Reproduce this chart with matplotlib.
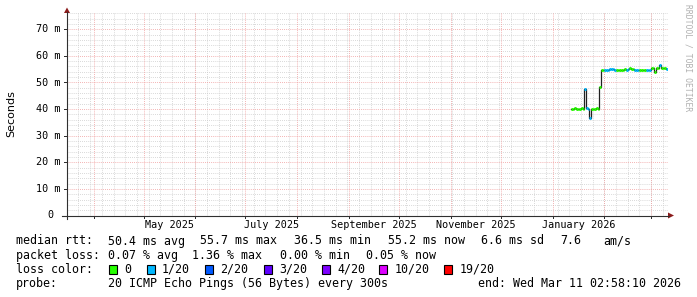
import datetime as dt
import matplotlib
matplotlib.use('Agg')
import matplotlib.pyplot as plt
import matplotlib.dates as mdates
from matplotlib.lines import Line2D
from matplotlib.patches import Polygon, Rectangle

W, H = 697, 297
MONO = 'DejaVu Sans Mono'
AXIS = '#303030'
ARROW = '#8c1c1c'
GRID_MINOR = '#cccccc'
GRID_MAJOR = '#f09a9a'

# time window of the graph
t_end = dt.datetime(2026, 3, 11, 2, 58, 10)
t_start = t_end - dt.timedelta(days=360)

# daily median rtt (ms), starting 2026-01-12
first_day = dt.datetime(2026, 1, 12)
median_ms = [40.2, 40.1, 40.3, 40.2, 40.0, 40.2, 40.3, 40.2,
             47.4, 40.3, 40.1, 36.5,
             40.2, 40.1, 40.2, 40.3, 40.2, 48.4,
             54.5, 54.5,
             54.7, 54.7, 54.8, 55.0, 55.0, 54.9, 54.7,
             54.6, 54.6, 54.7, 54.8, 54.8, 54.9,
             54.8, 54.9,
             55.6, 55.2, 54.9,
             54.6, 54.5, 54.6,
             54.5, 54.7, 54.6, 54.8,
             54.6, 54.6, 54.7,
             55.3, 55.4, 54.0, 55.5, 55.6,
             56.6,
             55.5, 55.6, 55.4,
             55.2]
# loss class per day (index into loss_labels)
loss_idx = [0, 0, 0, 0, 0, 0, 0, 0,
            1, 1, 1, 1,
            0, 0, 0, 0, 0, 0,
            0, 0,
            1, 1, 1, 1, 1, 1, 1,
            0, 0, 0, 0, 0, 0,
            1, 1,
            0, 0, 0,
            1, 1, 1,
            0, 0, 0, 0,
            1, 1, 1,
            0, 0, 0, 0, 0,
            1,
            0, 0, 0,
            1]

loss_labels = ['0', '1/20', '2/20', '3/20', '4/20', '10/20', '19/20']
loss_colors = ['#26ff00', '#00b8ff', '#0059ff', '#5e00ff', '#7e00ff', '#dd00ff', '#ff0000']

y_major_ms = [10, 20, 30, 40, 50, 60, 70]
y_tick_labels = ['10 m', '20 m', '30 m', '40 m', '50 m', '60 m', '70 m']
x_label_months = [(2025, 5), (2025, 7), (2025, 9), (2025, 11), (2026, 1)]
x_labels = ['May 2025', 'July 2025', 'September 2025', 'November 2025', 'January 2026']

rtt_row = [('median rtt:', 16), ('50.4 ms avg', 108.5), ('55.7 ms max', 199.5),
           ('36.5 ms min', 294.5), ('55.2 ms now', 388), ('6.6 ms sd', 481),
           ('7.6', 560), ('am/s', 603)]
loss_row = [('packet loss:', 16), ('0.07 % avg', 108), ('1.36 % max', 192),
            ('0.00 % min', 280), ('0.05 % now', 366)]
box_x = [108.5, 146.5, 205, 263.5, 321.5, 379, 444]
probe_text = '20 ICMP Echo Pings (56 Bytes) every 300s'
end_text = 'end: Wed Mar 11 02:58:10 2026'


def fx(px):
    return px / W


def fy(py):
    return 1 - py / H


fig = plt.figure(figsize=(W / 100, H / 100), dpi=100)
fig.patch.set_facecolor('white')
ax = fig.add_axes([fx(67), fy(215.5), 601 / W, 202.5 / H])
ax.set_facecolor('white')
for s in ax.spines.values():
    s.set_visible(False)
ax.set_xlim(t_start, t_end)
ax.set_ylim(0, 0.0761)
ax.set_xticks([])
ax.set_yticks([])

# grid
dotted = dict(linestyle=(0, (1, 1.5)), linewidth=0.6)
for ms in range(2, 77, 2):
    if ms % 10:
        ax.axhline(ms / 1000, color=GRID_MINOR, zorder=1, **dotted)
d = t_start.replace(hour=0, minute=0, second=0)
while d < t_end:
    if d.weekday() == 6:
        ax.axvline(d, color=GRID_MINOR, zorder=1, **dotted)
    d += dt.timedelta(days=1)
month_starts = []
y, m = 2025, 4
while dt.datetime(y, m, 1) < t_end:
    month_starts.append(dt.datetime(y, m, 1))
    m += 1
    if m > 12:
        y, m = y + 1, 1
for ms in y_major_ms:
    ax.axhline(ms / 1000, color=GRID_MAJOR, zorder=2, **dotted)
for ms_d in month_starts:
    ax.axvline(ms_d, color=GRID_MAJOR, zorder=2, **dotted)

# median line
days = [first_day + dt.timedelta(days=i) for i in range(len(median_ms))]
xs = days + [t_end]
ys = [v / 1000 for v in median_ms] + [median_ms[-1] / 1000]
ax.plot(xs, ys, drawstyle='steps-post', color='#202020', lw=0.9, zorder=3)
xn = mdates.date2num(xs)
ax.hlines([v / 1000 for v in median_ms], xn[:-1], xn[1:],
          colors=[loss_colors[i] for i in loss_idx], lw=2.1, zorder=4)

# axes lines, ticks and arrows
fig.add_artist(Line2D([fx(62), fx(669)], [fy(215.5), fy(215.5)], color=AXIS, lw=0.8))
fig.add_artist(Line2D([fx(67), fx(67)], [fy(219), fy(12)], color=AXIS, lw=0.8))
fig.add_artist(Polygon([(fx(668), fy(212.5)), (fx(668), fy(218.5)), (fx(674), fy(215.5))],
                       closed=True, color=ARROW, lw=0))
fig.add_artist(Polygon([(fx(64), fy(13)), (fx(70), fy(13)), (fx(67), fy(7.5))],
                       closed=True, color=ARROW, lw=0))
trans_x = ax.get_xaxis_transform()
for ms_d in month_starts:
    ax.plot([ms_d, ms_d], [0, -0.012], transform=trans_x, color=AXIS, lw=0.72,
            clip_on=False, zorder=5)
trans_y = ax.get_yaxis_transform()
for ms in y_major_ms:
    ax.plot([-0.005, 0], [ms / 1000, ms / 1000], transform=trans_y, color=AXIS,
            lw=0.72, clip_on=False, zorder=5)

# y tick labels
for ms, lab in zip(y_major_ms, y_tick_labels):
    py = 215.5 - ms * 2.66
    fig.text(fx(60.5), fy(py), lab, ha='right', va='center', family=MONO, fontsize=7.3)
fig.text(fx(53.5), fy(215.5), '0', ha='right', va='center', family=MONO, fontsize=7.3)

# x labels at mid-month
for (yy, mm), lab in zip(x_label_months, x_labels):
    nm = dt.datetime(yy + (mm == 12), mm % 12 + 1, 1)
    st = dt.datetime(yy, mm, 1)
    mid = st + (nm - st) / 2
    ax.text(mid, -0.045, lab, transform=trans_x, ha='center', va='center',
            family=MONO, fontsize=7.3)

fig.text(fx(11), fy(113.5), 'Seconds', rotation=90, ha='center', va='center',
         family='DejaVu Sans', fontsize=8)
fig.text(fx(688), fy(4), 'RRDTOOL / TOBI OETIKER', rotation=-90, ha='center', va='top',
         family=MONO, fontsize=5.8, color='#b0b0b0')

# legend rows
FS = 8.4
for txt, px in rtt_row:
    fig.text(fx(px), fy(241), txt, ha='left', va='center', family=MONO, fontsize=FS)
for txt, px in loss_row:
    fig.text(fx(px), fy(255.5), txt, ha='left', va='center', family=MONO, fontsize=FS)
fig.text(fx(16), fy(269.5), 'loss color:', ha='left', va='center', family=MONO, fontsize=FS)
for bx, col, lab in zip(box_x, loss_colors, loss_labels):
    fig.add_artist(Rectangle((fx(bx), fy(274)), 8 / W, 9 / H, facecolor=col,
                             edgecolor='black', lw=0.8))
    fig.text(fx(bx + 15.5), fy(269.5), lab, ha='left', va='center', family=MONO, fontsize=FS)
fig.text(fx(16), fy(283.5), 'probe:', ha='left', va='center', family=MONO, fontsize=FS)
fig.text(fx(108), fy(283.5), probe_text, ha='left', va='center', family=MONO, fontsize=FS)
fig.text(fx(681), fy(283.5), end_text, ha='right', va='center', family=MONO, fontsize=FS)

fig.savefig('out.png', dpi=100, facecolor='white')
